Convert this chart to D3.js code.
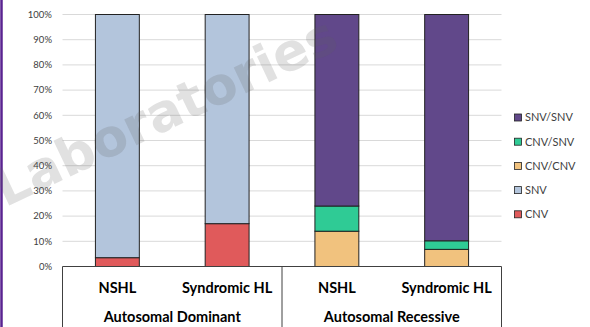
<!DOCTYPE html>
<html><head><meta charset="utf-8">
<script src="https://cdn.jsdelivr.net/npm/d3@7"></script>
<style>body{margin:0;background:#fff}svg{display:block}</style>
</head><body>
<svg id="c" width="590" height="327"></svg>
<script>
const groups = ["Autosomal Dominant", "Autosomal Recessive"];
const categories = ["NSHL", "Syndromic HL", "NSHL", "Syndromic HL"];
const seriesNames = ["CNV", "SNV", "CNV/CNV", "CNV/SNV", "SNV/SNV"];
const seriesColors = ["#e05a5b", "#b3c5dc", "#f1c27e", "#2fcb95", "#61488a"];
const CNV = [3.5, 17, 0, 0];
const SNV = [96.5, 83, 0, 0];
const CNV_CNV = [0, 0, 14, 6.8];
const CNV_SNV = [0, 0, 10, 3.4];
const SNV_SNV = [0, 0, 76, 89.8];
const yTicks = [0,10,20,30,40,50,60,70,80,90,100];
const legendOrder = ["SNV/SNV", "CNV/SNV", "CNV/CNV", "SNV", "CNV"];

const seriesVals = [CNV, SNV, CNV_CNV, CNV_SNV, SNV_SNV];
const rows = categories.map((c, i) => {
  const r = {idx: i};
  seriesNames.forEach((s, k) => r[s] = seriesVals[k][i]);
  return r;
});

const svg = d3.select("#c");
const L = 62.5, R = 501.5, T = 14.5, B = 266.5;
const x = d3.scaleBand().domain(d3.range(categories.length)).range([L, R]).paddingInner(0.6).paddingOuter(0.3);
const y = d3.scaleLinear().domain([0, 100]).range([B, T]);
const font = "Lato, 'Open Sans', sans-serif";

// left purple border
svg.append("line").attr("x1", 1.5).attr("x2", 1.5).attr("y1", 0).attr("y2", 327)
  .attr("stroke", "#5a2391").attr("stroke-width", 2.5);

// gridlines
svg.append("g").selectAll("line").data(yTicks.filter(t => t > 0)).join("line")
  .attr("x1", L).attr("x2", R).attr("y1", d => y(d)).attr("y2", d => y(d))
  .attr("stroke", "#d9d9d9").attr("stroke-width", 1);

// y labels
svg.append("g").selectAll("text").data(yTicks).join("text")
  .attr("x", 52).attr("y", d => y(d)).attr("dy", "0.35em")
  .attr("text-anchor", "end").attr("font-family", font).attr("font-size", 9.5)
  .attr("fill", "#404040").text(d => d + "%");

// stacks
const stacked = d3.stack().keys(seriesNames)(rows);
svg.append("g").selectAll("g").data(stacked).join("g")
  .attr("fill", (d, i) => seriesColors[i])
  .selectAll("rect").data(d => d.filter(p => p[1] - p[0] > 0)).join("rect")
  .attr("x", d => x(d.data.idx)).attr("width", x.bandwidth())
  .attr("y", d => y(d[1])).attr("height", d => y(d[0]) - y(d[1]))
  .attr("stroke", "#222").attr("stroke-width", 1);

// watermark
svg.append("text").attr("transform", "translate(167,115) rotate(-25.4)")
  .attr("text-anchor", "middle").attr("dy", "0.27em")
  .attr("font-family", "'DejaVu Sans', sans-serif").attr("font-weight", "bold")
  .attr("font-size", 52).attr("fill", "#606060").attr("fill-opacity", 0.19)
  .text("Laboratories");

// category axis box
const ax = svg.append("g").attr("stroke", "#404040").attr("stroke-width", 1);
ax.append("line").attr("x1", L).attr("x2", R).attr("y1", B).attr("y2", B);
const groupBounds = [L, (L + R) / 2, R];
groupBounds.forEach(gx => ax.append("line").attr("x1", gx).attr("x2", gx).attr("y1", B).attr("y2", 327));

svg.append("g").selectAll("text").data(categories).join("text")
  .attr("x", (d, i) => x(i) + x.bandwidth() / 2).attr("y", 288.3).attr("dy", "0.35em")
  .attr("text-anchor", "middle").attr("font-family", font).attr("font-weight", "bold")
  .attr("font-size", 14.5).attr("fill", "#000").text(d => d);

svg.append("g").selectAll("text").data(groups).join("text")
  .attr("x", (d, i) => (groupBounds[i] + groupBounds[i + 1]) / 2).attr("y", 317).attr("dy", "0.35em")
  .attr("text-anchor", "middle").attr("font-family", font).attr("font-weight", "bold")
  .attr("font-size", 14.5).attr("fill", "#000").text(d => d);

// legend
const lg = svg.append("g").selectAll("g").data(legendOrder).join("g")
  .attr("transform", (d, i) => `translate(514,${117.5 + i * 24.2})`);
lg.append("rect").attr("x", 0.5).attr("y", -3.5).attr("width", 7).attr("height", 7)
  .attr("fill", d => seriesColors[seriesNames.indexOf(d)]).attr("stroke", "#222").attr("stroke-width", 0.8);
lg.append("text").attr("x", 11).attr("y", 0).attr("dy", "0.35em")
  .attr("font-family", font).attr("font-size", 11).attr("fill", "#404040").text(d => d);
</script>
</body></html>
